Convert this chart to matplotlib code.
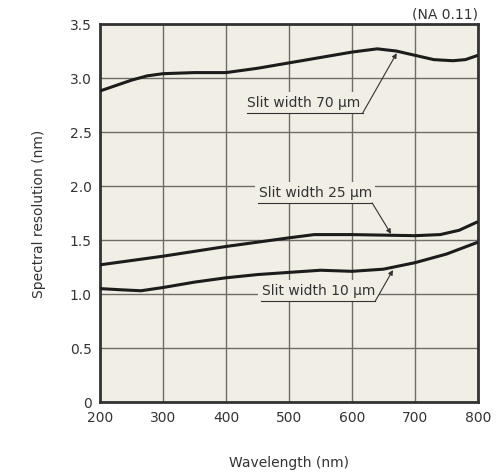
import matplotlib.pyplot as plt

# values
wl_70 = [200, 225, 250, 275, 300, 350, 400, 450, 500, 550, 600, 640, 670, 700, 730, 760, 780, 800]
res_70 = [2.88, 2.93, 2.98, 3.02, 3.04, 3.05, 3.05, 3.09, 3.14, 3.19, 3.24, 3.27, 3.25, 3.21, 3.17, 3.16, 3.17, 3.21]

wl_25 = [200, 300, 400, 500, 540, 600, 700, 740, 770, 800]
res_25 = [1.27, 1.35, 1.44, 1.52, 1.55, 1.55, 1.54, 1.55, 1.59, 1.67]

wl_10 = [200, 230, 265, 300, 350, 400, 450, 500, 550, 600, 650, 700, 750, 800]
res_10 = [1.05, 1.04, 1.03, 1.06, 1.11, 1.15, 1.18, 1.20, 1.22, 1.21, 1.23, 1.29, 1.37, 1.48]

labels = ["Slit width 70 µm", "Slit width 25 µm", "Slit width 10 µm"]
# underline start/end (nm), underline level, arrow tip
label_x0 = [433, 451, 456]
label_x1 = [617, 632, 637]
label_y = [2.676, 1.843, 0.935]
tip_x = [671, 662, 665]
tip_y = [3.23, 1.556, 1.222]

bg = "#f1eee6"
ink = "#1c1c1c"

fig = plt.figure(figsize=(4.98, 4.77), dpi=100)
ax = fig.add_axes([100 / 498, 74 / 477, 378 / 498, 378 / 477])
ax.set_facecolor(bg)

for x, y in [(wl_70, res_70), (wl_25, res_25), (wl_10, res_10)]:
    ax.plot(x, y, color=ink, lw=2.2, zorder=3, solid_capstyle="butt")

for i in range(3):
    ax.text(label_x0[i] + 1, label_y[i] + 0.035, labels[i], fontsize=10, color="#333333",
            ha="left", va="bottom", zorder=4,
            bbox=dict(facecolor=bg, edgecolor="none", pad=2.5))
    ax.plot([label_x0[i], label_x1[i]], [label_y[i], label_y[i]], color="#333333", lw=0.8, zorder=4)
    ax.annotate("", xy=(tip_x[i], tip_y[i]), xytext=(label_x1[i], label_y[i]),
                arrowprops=dict(arrowstyle="-|>", color="#333333", lw=0.8,
                                mutation_scale=7, shrinkA=0, shrinkB=0),
                zorder=4)

ax.set_xlim(200, 800)
ax.set_ylim(0, 3.5)
ax.set_xticks([200, 300, 400, 500, 600, 700, 800])
ax.set_yticks([0, 0.5, 1.0, 1.5, 2.0, 2.5, 3.0, 3.5])
ax.set_yticklabels(["0", "0.5", "1.0", "1.5", "2.0", "2.5", "3.0", "3.5"])
ax.grid(True, color="#6f6b66", lw=1.0, zorder=1)
ax.set_axisbelow(True)
ax.tick_params(length=0, labelsize=10, colors="#333333", pad=6)
for s in ax.spines.values():
    s.set_color("#333333")
    s.set_linewidth(2.0)

ax.set_xlabel("Wavelength (nm)", fontsize=10, color="#333333", labelpad=22)
ax.set_ylabel("Spectral resolution (nm)", fontsize=10, color="#333333", labelpad=17)
ax.text(1.0, 1.01, "(NA 0.11)", transform=ax.transAxes, ha="right", va="bottom",
        fontsize=10, color="#333333")

fig.savefig("out.png", dpi=100, facecolor="white")
